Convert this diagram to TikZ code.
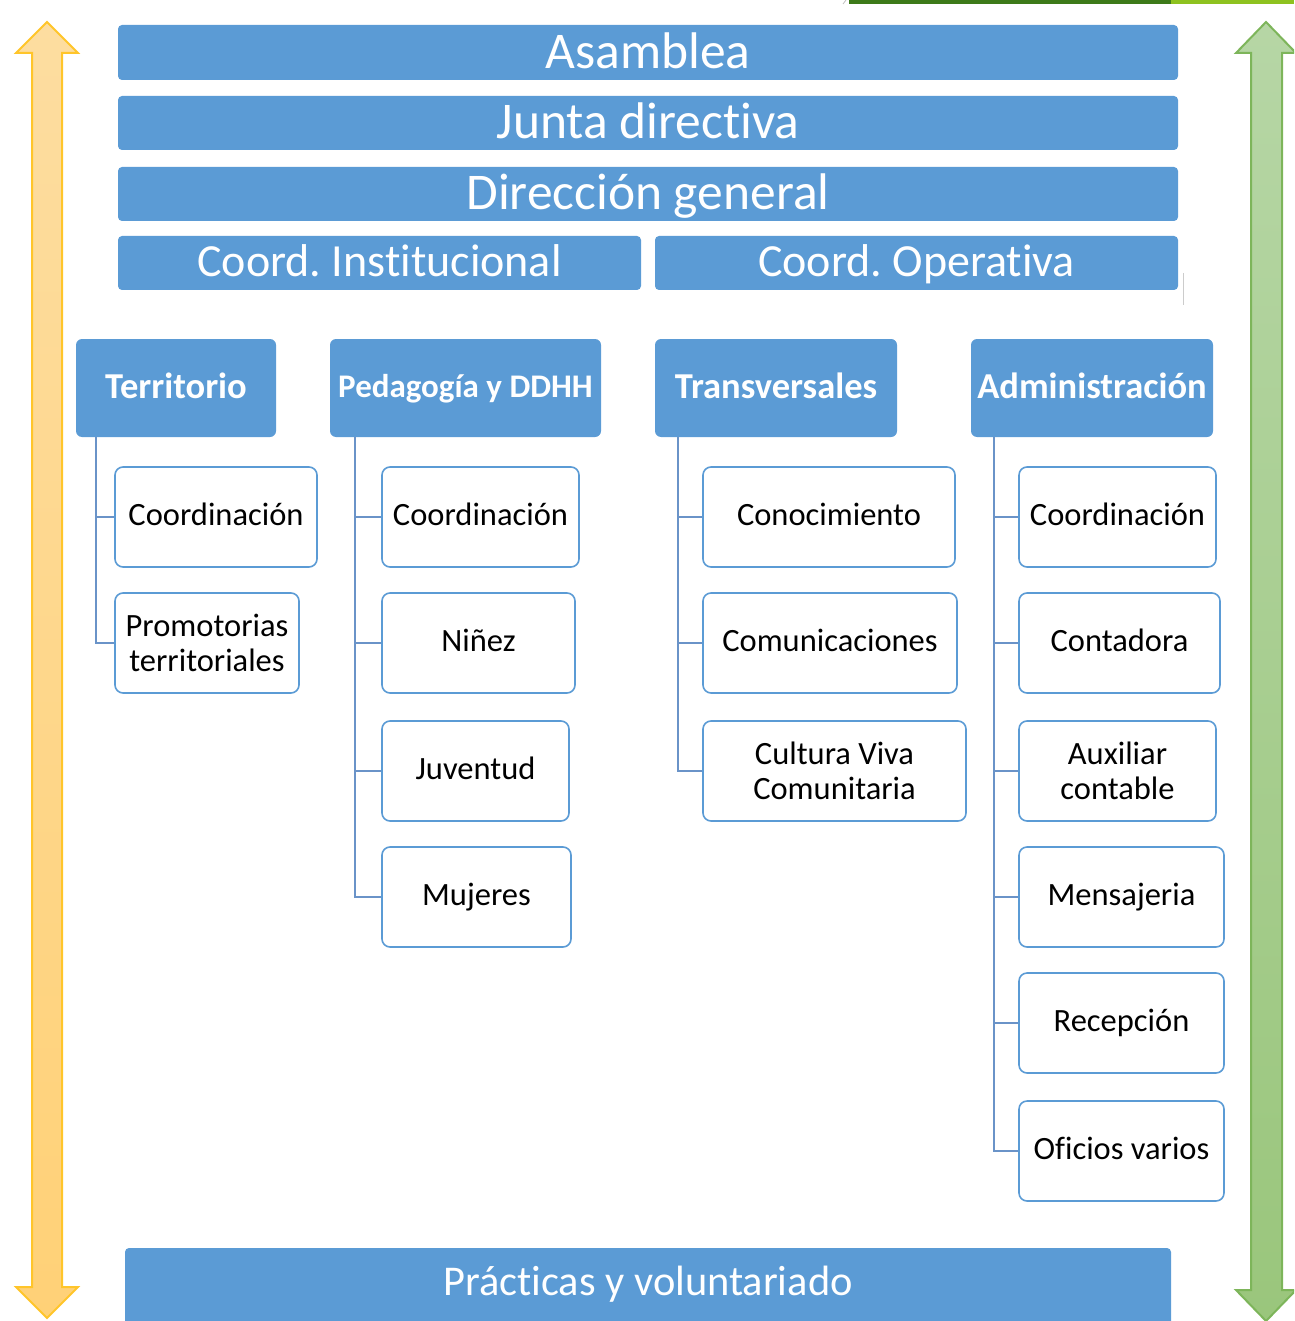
\documentclass[tikz,border=0pt]{standalone}
\usepackage{fontspec}
\setmainfont{Carlito}[Ligatures=NoCommon]
\frenchspacing
\definecolor{myblue}{HTML}{5B9BD5}
\definecolor{connblue}{HTML}{6A93C8}
\definecolor{yelfillA}{HTML}{FDDDA0}
\definecolor{yelfillB}{HTML}{FFD177}
\definecolor{yeldraw}{HTML}{FFC52A}
\definecolor{grnfillA}{HTML}{B6D6A5}
\definecolor{grnfillB}{HTML}{9AC67C}
\definecolor{grndraw}{HTML}{7DB55A}
\definecolor{darkgrn}{HTML}{3D7A19}
\definecolor{lightgrn}{HTML}{8EC21F}
\begin{document}
\begin{tikzpicture}[x=1pt,y=-1pt,
  bar/.style={fill=myblue, rounded corners=4pt, text=white, inner sep=0pt,
    font=\fontsize{51.5}{56}\selectfont, text height=38.6pt, text depth=6.6pt},
  bartwo/.style={bar, font=\fontsize{46}{52}\selectfont, text height=34.5pt, text depth=6.5pt},
  head/.style={fill=myblue, rounded corners=6pt, text=white, inner sep=0pt,
    minimum height=98pt, font=\fontsize{36.5}{40}\selectfont\bfseries,
    text height=27.4pt, text depth=7.4pt},
  child/.style={draw=myblue, line width=1.6pt, fill=white, rounded corners=8pt,
    minimum height=100pt, inner sep=0pt, align=center,
    font=\fontsize{32.5}{35}\selectfont},
  one/.style={text height=24.4pt, text depth=8.4pt},
  conn/.style={draw=connblue, line width=2pt}]
\useasboundingbox (0,0) rectangle (1294,1321);
\clip (0,0) rectangle (1294,1321);
% top green strip
\fill[darkgrn] (849,0) rectangle (1171,4);
\fill[lightgrn] (1171,0) rectangle (1294,4);
\draw[gray!50, line width=0.8pt] (843,4) -- (846,0);
% side arrows
\shade[top color=yelfillA, bottom color=yelfillB, draw=yeldraw, line width=2pt, line join=miter]
  (47,22) -- (16,53) -- (32,53) -- (32,1287) -- (16,1287) -- (47,1318)
  -- (78,1287) -- (62,1287) -- (62,53) -- (78,53) -- cycle;
\shade[top color=grnfillA, bottom color=grnfillB, draw=grndraw, line width=2pt, line join=miter]
  (1266,22) -- (1236,53) -- (1251,53) -- (1251,1290) -- (1236,1290) -- (1266,1321)
  -- (1296,1290) -- (1282,1290) -- (1282,53) -- (1296,53) -- cycle;
% top bars
\node[bar, minimum width=1060pt, minimum height=55pt] (asam) at (648,52.5) {Asamblea};
\node[bar, minimum width=1060pt, minimum height=54pt] (junta) at (648,123) {Junta directiva};
\node[bar, minimum width=1060pt, minimum height=54pt] (dir) at (648,194) {Dirección general};
\node[bartwo, minimum width=523pt, minimum height=54pt] (cinst) at (379.5,263) {Coord. Institucional};
\node[bartwo, minimum width=523pt, minimum height=54pt] (coper) at (916.5,263) {Coord. Operativa};
\draw[gray!40, line width=1pt] (1183,273) -- (1183,305);
% bottom bar
\fill[myblue, rounded corners=4pt] (125,1248) rectangle (1171,1345);
\node[text=white, font=\fontsize{42.4}{46}\selectfont] (prac) at (648,1284) {Prácticas y voluntariado};
% headers
\node[head, minimum width=200pt] (terr) at (176,388) {Territorio};
\node[head, minimum width=271pt, font=\fontsize{33}{38}\selectfont\bfseries,
  text height=24.8pt, text depth=6.8pt] (peda) at (465.5,388) {Pedagogía y DDHH};
\node[head, minimum width=242pt] (trans) at (776,388) {Transversales};
\node[head, minimum width=242pt] (adm) at (1092,388) {Administración};
% children: Territorio
\node[child, one, minimum width=202pt] (t1) at (216,517) {Coordinación};
\node[child, minimum width=184pt] (t2) at (207,643) {Promotorias\\territoriales};
% Pedagogia
\node[child, one, minimum width=197pt] (p1) at (480.5,517) {Coordinación};
\node[child, one, minimum width=193pt] (p2) at (478.5,643) {Niñez};
\node[child, one, minimum width=187pt] (p3) at (475.5,771) {Juventud};
\node[child, one, minimum width=189pt] (p4) at (476.5,897) {Mujeres};
% Transversales
\node[child, one, minimum width=252pt] (r1) at (829,517) {Conocimiento};
\node[child, one, minimum width=254pt] (r2) at (830,643) {Comunicaciones};
\node[child, minimum width=263pt] (r3) at (834.5,771) {Cultura Viva\\Comunitaria};
% Administracion
\node[child, one, minimum width=197pt] (a1) at (1117.5,517) {Coordinación};
\node[child, one, minimum width=201pt] (a2) at (1119.5,643) {Contadora};
\node[child, minimum width=197pt] (a3) at (1117.5,771) {Auxiliar\\contable};
\node[child, one, minimum width=205pt] (a4) at (1121.5,897) {Mensajeria};
\node[child, one, minimum width=205pt] (a5) at (1121.5,1023) {Recepción};
\node[child, one, minimum width=205pt] (a6) at (1121.5,1151) {Oficios varios};
% connectors
\foreach \c in {t1,t2} \draw[conn] ([xshift=20pt]terr.south west) |- (\c.west);
\foreach \c in {p1,p2,p3,p4} \draw[conn] ([xshift=25pt]peda.south west) |- (\c.west);
\foreach \c in {r1,r2,r3} \draw[conn] ([xshift=23pt]trans.south west) |- (\c.west);
\foreach \c in {a1,a2,a3,a4,a5,a6} \draw[conn] ([xshift=23pt]adm.south west) |- (\c.west);
\end{tikzpicture}
\end{document}
